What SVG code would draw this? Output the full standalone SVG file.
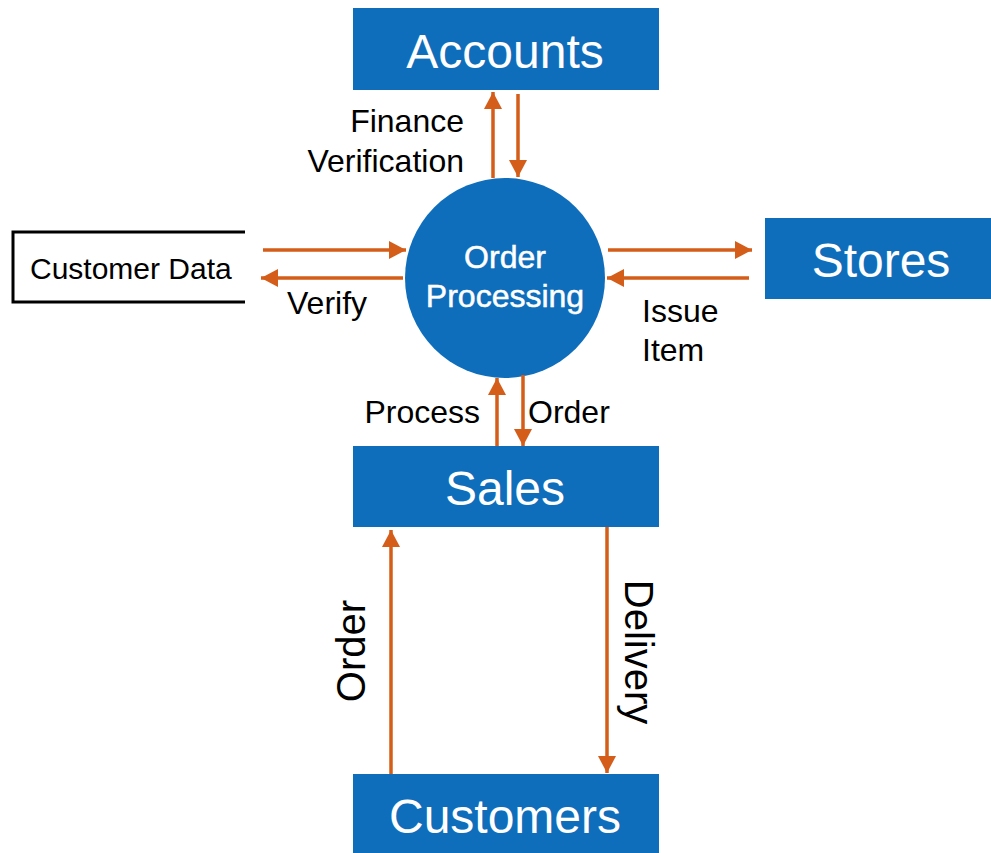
<svg xmlns="http://www.w3.org/2000/svg" width="991" height="853" viewBox="0 0 991 853">
<style>
.box{fill:#0f6ebb}
.bt{font-family:"Liberation Sans",Arial,sans-serif;font-size:48px;fill:#fff;text-anchor:middle}
.ct{font-family:"Liberation Sans",Arial,sans-serif;font-size:32px;fill:#fff;stroke:#fff;stroke-width:0.5;text-anchor:middle}
.lb{font-family:"Liberation Sans",Arial,sans-serif;font-size:32px;fill:#000}
.rl{font-family:"Liberation Sans",Arial,sans-serif;font-size:40px;fill:#000;text-anchor:middle}
.cn{stroke:#d45d19;stroke-width:3.5;fill:none;marker-end:url(#ah)}
</style>
<defs>
<marker id="ah" markerUnits="userSpaceOnUse" markerWidth="18" markerHeight="18" refX="17" refY="9" orient="auto">
<path d="M0,0 L17,9 L0,18 z" fill="#d45d19"/>
</marker>
</defs>
<rect width="991" height="853" fill="#fff"/>
<g id="accounts">
<rect class="box" x="353" y="8" width="306" height="82"/>
<text class="bt" x="505" y="68">Accounts</text>
</g>
<g id="order-processing">
<circle cx="505" cy="278" r="100" fill="#0f6ebb"/>
<text class="ct" x="505" y="268">Order</text>
<text class="ct" x="505" y="307">Processing</text>
</g>
<g id="customer-data">
<path d="M245,232 H13 V302 H245" fill="none" stroke="#000" stroke-width="3"/>
<text class="lb" x="30" y="279" style="font-size:30px">Customer Data</text>
</g>
<g id="stores">
<rect class="box" x="765" y="218" width="226" height="81"/>
<text class="bt" x="881" y="277">Stores</text>
</g>
<g id="sales">
<rect class="box" x="353" y="446" width="306" height="81"/>
<text class="bt" x="505" y="505">Sales</text>
</g>
<g id="customers">
<rect class="box" x="353" y="774" width="306" height="79"/>
<text class="bt" x="505" y="833">Customers</text>
</g>
<g id="connectors">
<line class="cn" x1="493" y1="178" x2="493" y2="92"/>
<line class="cn" x1="518" y1="94" x2="518" y2="177"/>
<line class="cn" x1="263" y1="250" x2="406" y2="250"/>
<line class="cn" x1="403" y1="278" x2="261" y2="278"/>
<line class="cn" x1="608" y1="250" x2="752" y2="250"/>
<line class="cn" x1="749" y1="278" x2="607" y2="278"/>
<line class="cn" x1="497" y1="446" x2="497" y2="378"/>
<line class="cn" x1="523" y1="375" x2="523" y2="446"/>
<line class="cn" x1="391" y1="774" x2="391" y2="530"/>
<line class="cn" x1="607" y1="527" x2="607" y2="773"/>
</g>
<g id="labels">
<text class="lb" x="464" y="132" text-anchor="end">Finance</text>
<text class="lb" x="464" y="172" text-anchor="end">Verification</text>
<text class="lb" x="287" y="314">Verify</text>
<text class="lb" x="642" y="322">Issue</text>
<text class="lb" x="642" y="361">Item</text>
<text class="lb" x="480" y="423" text-anchor="end">Process</text>
<text class="lb" x="528" y="423">Order</text>
<text class="rl" transform="translate(365,651) rotate(-90)">Order</text>
<text class="rl" transform="translate(625,652) rotate(90)">Delivery</text>
</g>
</svg>
